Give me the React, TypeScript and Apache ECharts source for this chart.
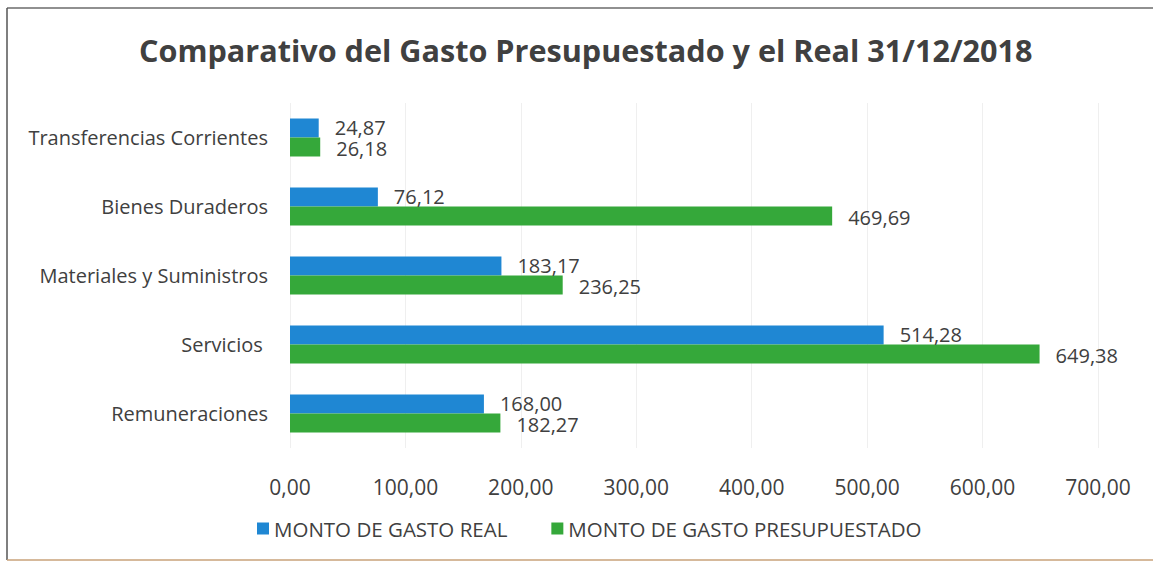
import React, { useEffect, useRef } from "react";
import * as echarts from "echarts";

const categories = [
  "Remuneraciones",
  "Servicios ",
  "Materiales y Suministros",
  "Bienes Duraderos",
  "Transferencias Corrientes",
];
const gastoReal = [168.0, 514.28, 183.17, 76.12, 24.87];
const gastoPresupuestado = [182.27, 649.38, 236.25, 469.69, 26.18];
const seriesNames = ["MONTO DE GASTO REAL", "MONTO DE GASTO PRESUPUESTADO"];
const titleText = "Comparativo del Gasto Presupuestado y el Real 31/12/2018";

const FONT = "'Open Sans', 'Noto Sans', sans-serif";
const TEXT = "#404040";
const BLUE = "#1f87d3";
const GREEN = "#35a83a";

const fmt = (v: number) => v.toFixed(2).replace(".", ",");

export default function App() {
  const ref = useRef<HTMLDivElement>(null);
  useEffect(() => {
    if (!ref.current) return;
    const chart = echarts.init(ref.current, null, { renderer: "svg" });
    const valueLabel = (dy: number) => ({
      show: true,
      position: "right",
      distance: 16,
      offset: [0, dy],
      fontFamily: FONT,
      fontSize: 20,
      lineHeight: 18,
      color: TEXT,
      formatter: (p: any) => fmt(p.value),
    });
    chart.setOption({
      animation: false,
      backgroundColor: "#ffffff",
      title: {
        text: titleText,
        left: 134,
        top: 29,
        textStyle: { fontFamily: FONT, fontSize: 30.6, fontWeight: "bold", color: TEXT },
      },
      legend: {
        bottom: 21,
        left: 252,
        itemWidth: 12,
        itemHeight: 12,
        itemGap: 44,
        icon: "rect",
        textStyle: { fontFamily: FONT, fontSize: 20.5, color: TEXT },
        data: seriesNames,
      },
      grid: { left: 290, right: 55, top: 103, bottom: 117, containLabel: false },
      xAxis: {
        type: "value",
        min: 0,
        max: 700,
        interval: 100,
        axisLine: { show: false },
        axisTick: { show: false },
        splitLine: { show: true, lineStyle: { color: "#efefef", width: 1 } },
        axisLabel: {
          fontFamily: FONT,
          fontSize: 21,
          color: TEXT,
          margin: 28,
          formatter: (v: number) => fmt(v),
        },
      },
      yAxis: {
        type: "category",
        data: categories,
        axisLine: { show: false },
        axisTick: { show: false },
        axisLabel: { fontFamily: FONT, fontSize: 20, color: TEXT, margin: 22 },
      },
      series: [
        {
          name: seriesNames[0],
          type: "bar",
          data: gastoReal,
          barWidth: 19,
          barGap: "0%",
          itemStyle: { color: BLUE },
          label: valueLabel(-1),
        },
        {
          name: seriesNames[1],
          type: "bar",
          data: gastoPresupuestado,
          barWidth: 19,
          barGap: "0%",
          itemStyle: { color: GREEN },
          label: valueLabel(1),
        },
      ],
      graphic: [
        { type: "line", shape: { x1: 7, y1: 8, x2: 1153, y2: 8 }, style: { stroke: "#6b6b6b", lineWidth: 1.5 } },
        { type: "line", shape: { x1: 7, y1: 8, x2: 7, y2: 560 }, style: { stroke: "#555555", lineWidth: 1.5 } },
        { type: "line", shape: { x1: 7, y1: 560, x2: 1153, y2: 560 }, style: { stroke: "#c9a27a", lineWidth: 1.5 } },
      ],
    });
    return () => chart.dispose();
  }, []);
  return (
    <div
      ref={ref}
      style={{ position: "fixed", left: 0, top: 0, width: 1153, height: 565 }}
    />
  );
}
